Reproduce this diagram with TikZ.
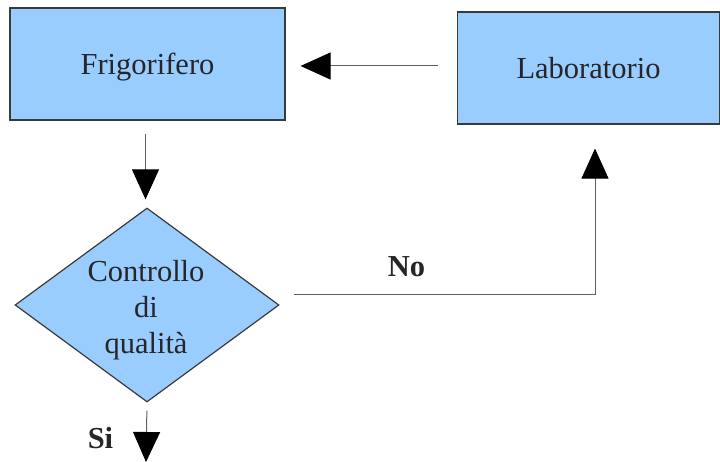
\documentclass[tikz,border=0pt]{standalone}
\usepackage{fontspec}
\setmainfont{Liberation Serif}
\usetikzlibrary{arrows.meta,shapes.geometric}
\definecolor{boxfill}{HTML}{99CCFF}
\definecolor{boxline}{HTML}{3A3A3A}
\definecolor{conn}{HTML}{606060}
\begin{document}
\begin{tikzpicture}[x=1pt,y=-1pt,
  boxstyle/.style={draw=boxline,line width=1.2pt,fill=boxfill,inner sep=0pt,
    font=\fontsize{30.5}{36}\selectfont,text=black!85,text depth=0pt},
  txt/.style={font=\fontsize{30.5}{36}\selectfont,text=black!85,inner sep=0pt,align=center},
  conn/.style={draw=conn,line width=1pt,
    -{Triangle[length=30pt,width=27pt,color=black]}},
  lbl/.style={font=\fontsize{30.5}{36}\selectfont\bfseries,text=black!85,inner sep=0pt}]
\useasboundingbox (0,0) rectangle (720,462);
\node[boxstyle,rectangle,minimum width=275pt,minimum height=112pt] (frig) at (147.5,64) {Frigorifero};
\node[boxstyle,rectangle,minimum width=262pt,minimum height=112pt] (lab) at (588.5,68) {Laboratorio};
\node[boxstyle,diamond,minimum width=264pt,minimum height=194pt,aspect=1.36] (ctrl) at (147,305) {};
\node[txt,anchor=base] (ctrltext) at (146,353) {Controllo\\di\\qualità};
\coordinate (out) at (146,462);
\draw[conn,shorten <=19pt,shorten >=15pt] ([yshift=2pt]lab.west) -- ([yshift=2pt]lab.west -| frig.east);
\draw[conn,shorten <=13pt,shorten >=8pt] ([xshift=-2pt]frig.south) -- ([xshift=-2pt]frig.south |- ctrl.north);
\draw[conn] ([shift={(14pt,10pt)}]ctrl.east) -| ([xshift=6.5pt,yshift=-24pt]lab.south);
\draw[conn,shorten <=8pt] (ctrl.south) -- (out);
\node[lbl,anchor=base] (no) at (406.5,277) {No};
\node[lbl,anchor=base] (si) at (100.5,448) {Si};
\end{tikzpicture}
\end{document}
